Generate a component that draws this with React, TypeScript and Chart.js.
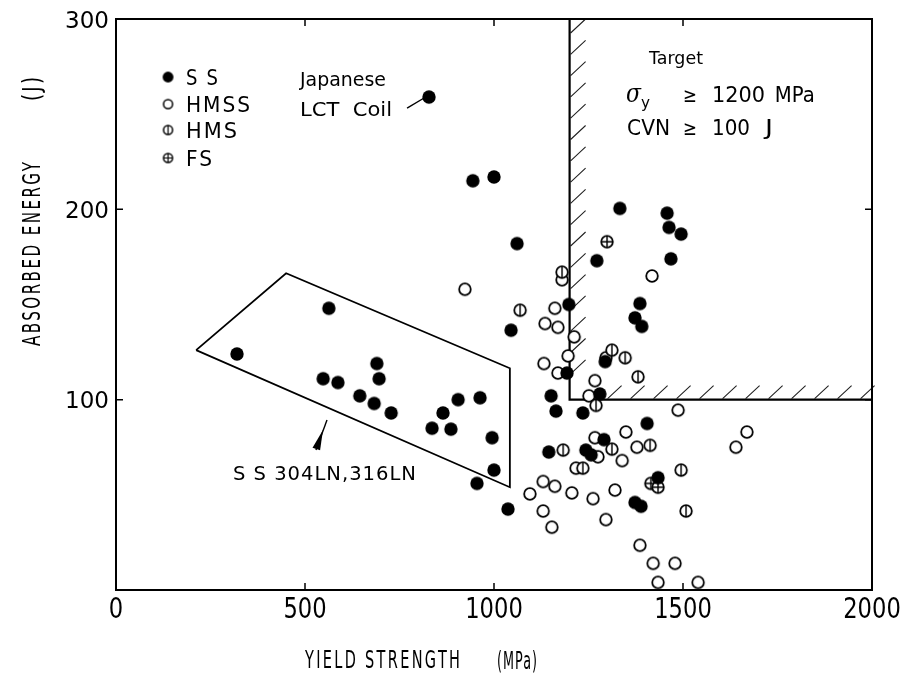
import React, { useEffect, useRef } from "react";
import { Chart, registerables } from "chart.js";

Chart.register(...registerables);

// ---- axis ticks ----
const xTickValues = [0, 500, 1000, 1500, 2000];
const xTickLabels = ["0", "500", "1000", "1500", "2000"];
const yTickValues = [0, 100, 200, 300];
const yTickLabels = ["", "100", "200", "300"];

// ---- SS (filled circles) ----
const ssX = [320, 563, 548, 587, 690, 696, 645, 683, 728, 836, 886, 865, 905, 963, 995, 1000, 955, 1037, 828, 944, 1000, 1061, 1045, 1198, 1193, 1151, 1164, 1235, 1280, 1294, 1333, 1458, 1463, 1495, 1272, 1468, 1386, 1373, 1391, 1405, 1291, 1145, 1243, 1257, 1434, 1373, 1389];
const ssY = [124, 148, 111, 109, 119, 111, 102, 98, 93, 85, 84.5, 93, 100, 101, 80, 63, 56, 42.5, 259, 215, 217, 182, 136.5, 150, 114, 102, 94, 93, 103, 120, 200.5, 198, 190.5, 187, 173, 174, 150.5, 143, 138.5, 87.5, 79, 72.5, 73.5, 71, 59, 46, 44];

// ---- HMSS (open circles) ----
const hmssX = [923, 1180, 1161, 1135, 1169, 1212, 1196, 1132, 1169, 1418, 1296, 1267, 1251, 1487, 1669, 1640, 1349, 1267, 1378, 1275, 1339, 1217, 1130, 1161, 1095, 1206, 1262, 1320, 1130, 1153, 1296, 1386, 1421, 1479, 1434, 1540];
const hmssY = [158, 163, 148, 140, 138, 133, 123, 119, 114, 165, 122, 110, 102, 94.5, 83, 75, 83, 80, 75, 70, 68, 64, 57, 54.5, 50.5, 51, 48, 52.5, 41.5, 33, 37, 23.5, 14, 14, 4, 4];

// ---- HMS (circle with vertical bar) ----
const hmsX = [1180, 1069, 1312, 1347, 1381, 1270, 1183, 1235, 1312, 1413, 1495, 1508];
const hmsY = [167, 147, 126, 122, 112, 97, 73.5, 64, 74, 76, 63, 41.5];

// ---- FS (circle with cross) ----
const fsX = [1299, 1415, 1434];
const fsY = [183, 56, 54];

// ---- SS 304LN/316LN enclosing polygon ----
const boxX = [212, 450, 1042, 1042, 212];
const boxY = [126, 166.4, 116.5, 54, 126];

// ---- Target region boundary ----
const targetX = [1200, 1200, 2000];
const targetY = [300, 100, 100];

const zip = (xs: number[], ys: number[]) => xs.map((x, i) => ({ x, y: ys[i] }));

function mkMarker(kind: string, r: number, lw: number) {
  const s = Math.ceil(2 * r + lw + 2);
  const c = document.createElement("canvas");
  c.width = s;
  c.height = s;
  const g = c.getContext("2d")!;
  const m = s / 2;
  g.beginPath();
  g.arc(m, m, r, 0, Math.PI * 2);
  if (kind === "ss") {
    g.fillStyle = "#000";
    g.fill();
    return c;
  }
  g.fillStyle = "#fff";
  g.fill();
  g.lineWidth = lw;
  g.strokeStyle = "#000";
  g.stroke();
  if (kind === "hms" || kind === "fs") {
    g.beginPath();
    g.moveTo(m, m - r);
    g.lineTo(m, m + r);
    if (kind === "fs") {
      g.moveTo(m - r, m);
      g.lineTo(m + r, m);
    }
    g.lineWidth = lw * 0.8;
    g.stroke();
  }
  return c;
}

type TOpts = { width?: number; sx?: number; align?: "left" | "center" | "right"; rotate?: number; spacing?: number };

function drawText(ctx: CanvasRenderingContext2D, s: string, x: number, y: number, font: string, o: TOpts = {}) {
  ctx.save();
  ctx.font = font;
  ctx.textAlign = "left";
  ctx.textBaseline = "alphabetic";
  ctx.fillStyle = "#000";
  (ctx as any).letterSpacing = (o.spacing || 0) + "px";
  const m = ctx.measureText(s).width - (o.spacing || 0);
  const sx = o.width ? o.width / m : o.sx || 1;
  const w = m * sx;
  ctx.translate(x, y);
  if (o.rotate) ctx.rotate(o.rotate);
  let dx = 0;
  if (o.align === "center") dx = -w / 2;
  else if (o.align === "right") dx = -w;
  ctx.translate(dx, 0);
  ctx.scale(sx, 1);
  ctx.fillText(s, 0, 0);
  ctx.restore();
}

const SANS = '"DejaVu Sans", sans-serif';

export default function App() {
  const ref = useRef<HTMLCanvasElement>(null);

  useEffect(() => {
    const mSS = mkMarker("ss", 6.7, 1.8);
    const mHMSS = mkMarker("hmss", 5.8, 1.8);
    const mHMS = mkMarker("hms", 5.8, 1.8);
    const mFS = mkMarker("fs", 5.8, 1.8);
    const lSS = mkMarker("ss", 5.4, 1.5);
    const lHMSS = mkMarker("hmss", 4.5, 1.5);
    const lHMS = mkMarker("hms", 4.5, 1.5);
    const lFS = mkMarker("fs", 4.5, 1.5);

    const overlay = {
      id: "overlay",
      beforeDatasetsDraw(chart: any) {
        const { ctx, chartArea: a, scales } = chart;
        const X = (v: number) => scales.x.getPixelForValue(v);
        const Y = (v: number) => scales.y.getPixelForValue(v);
        const vx = X(targetX[0]);
        const hy = Y(targetY[1]);
        ctx.save();
        ctx.strokeStyle = "#222";
        ctx.lineWidth = 1.1;
        ctx.beginPath();
        for (let py = a.top + 14; py < hy - 6; py += 21.3) {
          ctx.moveTo(vx + 1, py);
          ctx.lineTo(vx + 16, py - 14);
        }
        for (let px = vx + 38; px < a.right - 8; px += 23) {
          ctx.moveTo(px, hy - 1);
          ctx.lineTo(px + 14, hy - 14);
        }
        ctx.stroke();
        ctx.restore();
      },
      afterDatasetsDraw(chart: any) {
        const { ctx, chartArea: a, scales } = chart;
        const X = (v: number) => scales.x.getPixelForValue(v);
        const Y = (v: number) => scales.y.getPixelForValue(v);
        ctx.save();
        // frame
        ctx.strokeStyle = "#000";
        ctx.lineWidth = 2;
        ctx.strokeRect(a.left, a.top, a.right - a.left, a.bottom - a.top);
        // inward ticks
        ctx.beginPath();
        xTickValues.slice(1, -1).forEach((v) => {
          const px = X(v);
          ctx.moveTo(px, a.bottom);
          ctx.lineTo(px, a.bottom - 7);
          ctx.moveTo(px, a.top);
          ctx.lineTo(px, a.top + 7);
        });
        yTickValues.slice(1, -1).forEach((v) => {
          const py = Y(v);
          ctx.moveTo(a.left, py);
          ctx.lineTo(a.left + 7, py);
          ctx.moveTo(a.right, py);
          ctx.lineTo(a.right - 7, py);
        });
        ctx.lineWidth = 1.5;
        ctx.stroke();

        // tick labels
        xTickValues.forEach((v, i) => {
          drawText(ctx, xTickLabels[i], X(v), a.bottom + 28, `29px ${SANS}`, { sx: 0.78, align: "center" });
        });
        yTickValues.forEach((v, i) => {
          if (!yTickLabels[i]) return;
          drawText(ctx, yTickLabels[i], a.left - 7, Y(v) + 8.5, `23px ${SANS}`, { align: "right", width: 44 });
        });

        // leader line to Japanese LCT coil
        ctx.beginPath();
        ctx.moveTo(X(770), Y(253.2));
        ctx.lineTo(X(815), Y(258.5));
        ctx.lineWidth = 1.4;
        ctx.stroke();

        // arrow toward SS 304LN box
        const x0 = X(529), y0 = Y(73.6), x1 = X(558.2), y1 = Y(89.3);
        ctx.beginPath();
        ctx.moveTo(x0, y0);
        ctx.lineTo(x1, y1);
        ctx.lineWidth = 1.4;
        ctx.stroke();
        const tx = X(547.6), ty = Y(84.1), bx = X(529.9), by = Y(74.1);
        const dx = tx - bx, dy = ty - by;
        const L = Math.hypot(dx, dy);
        const nx = -dy / L, ny = dx / L;
        ctx.beginPath();
        ctx.moveTo(tx, ty);
        ctx.lineTo(bx + nx * 4, by + ny * 4);
        ctx.lineTo(bx - nx * 4, by - ny * 4);
        ctx.closePath();
        ctx.fillStyle = "#000";
        ctx.fill();

        // legend
        const lx = X(137.6);
        const rows: [HTMLCanvasElement, number, string, number, number][] = [
          [lSS, 269.5, "S S", 265.3, 32],
          [lHMSS, 255.3, "HMSS", 251.0, 64],
          [lHMS, 241.7, "HMS", 237.5, 51],
          [lFS, 227.0, "FS", 222.8, 26],
        ];
        rows.forEach(([img, my, label, by2, w]) => {
          ctx.drawImage(img, lx - img.width / 2, Y(my) - img.height / 2);
          drawText(ctx, label, X(185.2), Y(by2), `21px ${SANS}`, { width: w, spacing: 2 });
        });

        // annotations
        drawText(ctx, "Japanese", X(486.8), Y(264.8), `19px ${SANS}`, { width: 86 });
        drawText(ctx, "LCT  Coil", X(486.8), Y(249.0), `19px ${SANS}`, { width: 92 });
        drawText(ctx, "Target", X(1410), Y(276.4), `17px ${SANS}`, { width: 54 });
        drawText(ctx, "σ", X(1349), Y(256.4), `italic 26px "DejaVu Serif", serif`, { width: 15 });
        drawText(ctx, "y", X(1389), Y(253.2), `16px ${SANS}`, { width: 9 });
        drawText(ctx, "≥", X(1500), Y(256.4), `20px ${SANS}`, { width: 14 });
        drawText(ctx, "1200", X(1576.7), Y(256.4), `21px ${SANS}`, { width: 53 });
        drawText(ctx, "MPa", X(1743), Y(256.4), `21px ${SANS}`, { width: 40 });
        drawText(ctx, "CVN", X(1352), Y(239.1), `21px ${SANS}`, { width: 43 });
        drawText(ctx, "≥", X(1500), Y(239.1), `20px ${SANS}`, { width: 14 });
        drawText(ctx, "100", X(1576.7), Y(239.1), `21px ${SANS}`, { width: 38 });
        drawText(ctx, "J", X(1717), Y(239.1), `21px ${SANS}`, { width: 8 });
        drawText(ctx, "S S 304LN,316LN", X(309.5), Y(57.8), `20px ${SANS}`, { width: 183, spacing: 1 });

        // axis titles
        drawText(ctx, "YIELD STRENGTH", a.left + 189, a.bottom + 78, `25px ${SANS}`, { width: 155, spacing: 4 });
        drawText(ctx, "(MPa)", a.left + 381, a.bottom + 79, `25px ${SANS}`, { width: 40, spacing: 2 });
        drawText(ctx, "ABSORBED ENERGY", a.left - 76, a.bottom - 244, `25px ${SANS}`, { width: 184, spacing: 4, rotate: -Math.PI / 2 });
        drawText(ctx, "(J)", a.left - 76, a.top + 82, `25px ${SANS}`, { width: 24, spacing: 3, rotate: -Math.PI / 2 });
        ctx.restore();
      },
    };

    const chart = new Chart(ref.current!, {
      type: "scatter",
      data: {
        datasets: [
          { label: "SS", data: zip(ssX, ssY), pointStyle: mSS as any, pointRadius: 6 },
          { label: "FS", data: zip(fsX, fsY), pointStyle: mFS as any, pointRadius: 6 },
          { label: "HMS", data: zip(hmsX, hmsY), pointStyle: mHMS as any, pointRadius: 6 },
          { label: "HMSS", data: zip(hmssX, hmssY), pointStyle: mHMSS as any, pointRadius: 6 },
          {
            label: "box",
            data: zip(boxX, boxY),
            showLine: true,
            pointRadius: 0,
            borderColor: "#000",
            borderWidth: 1.8,
            tension: 0,
          } as any,
          {
            label: "target",
            data: zip(targetX, targetY),
            showLine: true,
            pointRadius: 0,
            borderColor: "#000",
            borderWidth: 2.2,
            tension: 0,
          } as any,
        ],
      },
      options: {
        responsive: false,
        animation: false,
        layout: { padding: { left: 0, top: 11, right: 32, bottom: 0 } },
        plugins: { legend: { display: false }, tooltip: { enabled: false } },
        scales: {
          x: {
            type: "linear",
            min: 0,
            max: 2000,
            afterBuildTicks: (s: any) => {
              s.ticks = xTickValues.map((value) => ({ value }));
            },
            afterFit: (s: any) => {
              s.height = 99;
            },
            grid: { display: false, drawTicks: false },
            border: { display: false },
            ticks: { display: false },
          },
          y: {
            type: "linear",
            min: 0,
            max: 300,
            afterBuildTicks: (s: any) => {
              s.ticks = yTickValues.map((value) => ({ value }));
            },
            afterFit: (s: any) => {
              s.width = 108;
            },
            grid: { display: false, drawTicks: false },
            border: { display: false },
            ticks: { display: false },
          },
        },
      },
      plugins: [overlay],
    });
    return () => chart.destroy();
  }, []);

  return (
    <div style={{ width: 896, height: 681 }}>
      <canvas ref={ref} width={896} height={681} style={{ display: "block" }} />
    </div>
  );
}
